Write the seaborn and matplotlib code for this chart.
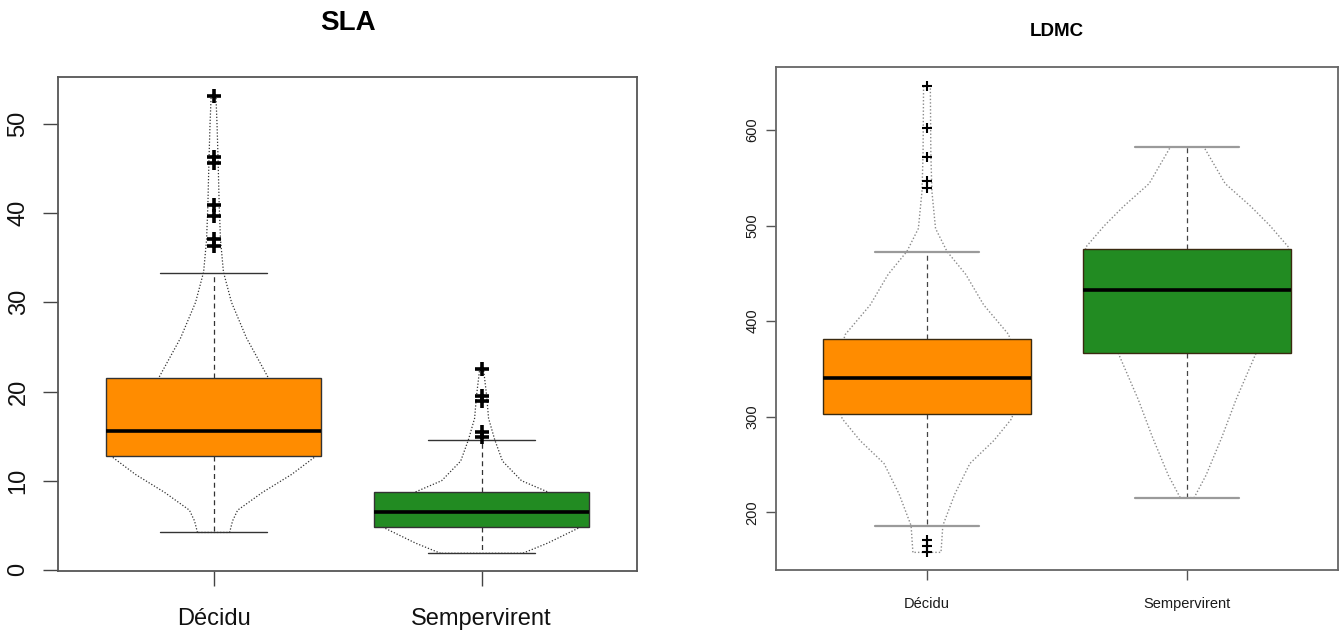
import numpy as np
import pandas as pd
import matplotlib
matplotlib.use("Agg")
import matplotlib.pyplot as plt
import seaborn as sns

# ---- data -------------------------------------------------------------
groups = ["Décidu", "Sempervirent"]
box_colors = ["#FF8C00", "#228B22"]

# SLA summary statistics (lower whisker, Q1, median, Q3, upper whisker)
sla_lo = [4.2, 1.86]
sla_q1 = [12.8, 4.8]
sla_med = [15.6, 6.5]
sla_q3 = [21.5, 8.7]
sla_hi = [33.3, 14.6]
sla_out_decidu = [53.1, 46.3, 45.6, 40.95, 39.7, 37.05, 36.3]
sla_out_semper = [22.55, 19.5, 18.9, 15.5, 14.9]

# SLA density outlines (value level, half-width in box units)
sla_dec_lev = [4.2, 5.5, 6.7, 8.7, 10.7, 12.8, 15.6, 18.5, 21.5, 26, 30, 33.4, 37, 41, 46, 50, 53.1]
sla_dec_hw = [0.060, 0.071, 0.090, 0.183, 0.291, 0.384, 0.373, 0.299, 0.205, 0.123,
              0.067, 0.037, 0.026, 0.021, 0.017, 0.013, 0.009]
sla_sem_lev = [1.86, 3.0, 4.8, 6.5, 8.7, 10.0, 12.2, 14.6, 17.0, 19.5, 22.55]
sla_sem_hw = [0.153, 0.246, 0.369, 0.336, 0.250, 0.149, 0.078, 0.049, 0.026, 0.019, 0.007]

# LDMC summary statistics
ldmc_lo = [186, 215.3]
ldmc_q1 = [303.2, 366.8]
ldmc_med = [340, 432.9]
ldmc_q3 = [381.5, 475.2]
ldmc_hi = [472.6, 582]
ldmc_out_decidu = [645.7, 601.8, 572, 546.8, 539.7, 171, 164.7, 158]
ldmc_out_semper = []

# LDMC density outlines
ldmc_dec_lev = [158, 186, 219, 251, 275, 298, 340, 386, 417, 449, 473, 497, 536, 575, 646]
ldmc_dec_hw = [0.054, 0.061, 0.107, 0.165, 0.257, 0.326, 0.364, 0.314, 0.218, 0.149,
               0.077, 0.033, 0.019, 0.015, 0.013]
ldmc_sem_lev = [215.3, 239, 279, 318, 366, 420, 477, 500, 520, 544, 582]
ldmc_sem_hw = [0.027, 0.073, 0.134, 0.188, 0.264, 0.364, 0.391, 0.318, 0.245, 0.146, 0.065]

# ---- style ------------------------------------------------------------
sns.set_theme(style="white")
plt.rcParams["font.family"] = ["Liberation Sans", "DejaVu Sans"]

fig = plt.figure(figsize=(13.44, 6.34), dpi=100)
ax1 = fig.add_axes([0.0432, 0.0994, 0.4308, 0.779])
ax2 = fig.add_axes([0.5774, 0.1009, 0.4182, 0.7934])


def violin_outline(ax, pos, levels, halfw, color, lw):
    lev = np.asarray(levels, float)
    hw = np.asarray(halfw, float)
    xs = np.concatenate([pos - hw, (pos + hw)[::-1], [pos - hw[0]]])
    ys = np.concatenate([lev, lev[::-1], [lev[0]]])
    df = pd.DataFrame({"x": xs, "y": ys})
    sns.lineplot(data=df, x="x", y="y", sort=False, estimator=None, ax=ax,
                 color=color, linestyle=(0, (1, 1.5)), linewidth=lw, zorder=1)


def draw_panel(ax, lo, q1, med, q3, hi, outliers, violins, outline_col,
               edge_col, cap_col, whisk_col, cap_lw, plus_s, plus_lw, vlw):
    for i, (lev, hw) in enumerate(violins):
        violin_outline(ax, i + 1, lev, hw, outline_col, vlw)
    stats = []
    for i in range(len(groups)):
        stats.append(dict(med=med[i], q1=q1[i], q3=q3[i], whislo=lo[i],
                          whishi=hi[i], fliers=[]))
    bp = ax.bxp(stats, positions=[1, 2], widths=0.8, capwidths=0.4,
                patch_artist=True, showfliers=False,
                boxprops=dict(edgecolor=edge_col, linewidth=1.0),
                medianprops=dict(color="black", linewidth=2.6, solid_capstyle="butt"),
                whiskerprops=dict(color=whisk_col, linestyle=(0, (4, 3)), linewidth=0.9),
                capprops=dict(color=cap_col, linewidth=cap_lw))
    for patch, c in zip(bp["boxes"], box_colors):
        patch.set_facecolor(c)
        patch.set_zorder(3)
    for m in bp["medians"]:
        m.set_zorder(4)
    for i, pts in enumerate(outliers):
        if len(pts):
            sns.scatterplot(x=[i + 1] * len(pts), y=pts, marker="+", s=plus_s,
                            color="black", linewidth=plus_lw, ax=ax, zorder=5)


draw_panel(ax1, sla_lo, sla_q1, sla_med, sla_q3, sla_hi,
           [sla_out_decidu, sla_out_semper],
           [(sla_dec_lev, sla_dec_hw), (sla_sem_lev, sla_sem_hw)],
           outline_col="#333333", edge_col="#333333", cap_col="#333333",
           whisk_col="#333333", cap_lw=1.0, plus_s=110, plus_lw=2.6, vlw=0.9)
draw_panel(ax2, ldmc_lo, ldmc_q1, ldmc_med, ldmc_q3, ldmc_hi,
           [ldmc_out_decidu, ldmc_out_semper],
           [(ldmc_dec_lev, ldmc_dec_hw), (ldmc_sem_lev, ldmc_sem_hw)],
           outline_col="#8a8a8a", edge_col="#3a2a10", cap_col="#9a9a9a",
           whisk_col="#444444", cap_lw=1.6, plus_s=45, plus_lw=1.5, vlw=1.0)

# ---- axes -------------------------------------------------------------
ax1.set_xlim(0.42, 2.58)
ax1.set_ylim(-0.12, 55.25)
ax1.set_yticks([0, 10, 20, 30, 40, 50])
ax1.set_xticks([1, 2])
ax1.set_xticklabels(groups)
ax1.tick_params(axis="both", direction="out", length=10.5, width=1.0, color="#444444",
                labelsize=17, labelcolor="#111111", bottom=True, left=True, pad=10)
ax1.tick_params(axis="x", pad=16)
plt.setp(ax1.get_yticklabels(), rotation=90, va="center")
ax1.set_title("SLA", fontsize=20, fontweight="bold", pad=34, color="black")

ax2.set_xlim(0.42, 2.58)
ax2.set_ylim(139.5, 666)
ax2.set_yticks([200, 300, 400, 500, 600])
ax2.set_xticks([1, 2])
ax2.set_xticklabels(groups)
ax2.tick_params(axis="both", direction="out", length=7, width=1.0, color="#555555",
                labelsize=10.5, labelcolor="#1a1a1a", bottom=True, left=True, pad=5)
ax2.tick_params(axis="x", pad=12.5)
plt.setp(ax2.get_yticklabels(), rotation=90, va="center")
ax2.set_title("LDMC", fontsize=13.5, fontweight="bold", pad=22, color="black")

for ax, col in ((ax1, "#555555"), (ax2, "#666666")):
    ax.set_xlabel("")
    ax.set_ylabel("")
    for sp in ax.spines.values():
        sp.set_visible(True)
        sp.set_color(col)
        sp.set_linewidth(1.3)

fig.savefig("out.png", dpi=100, facecolor="white")
